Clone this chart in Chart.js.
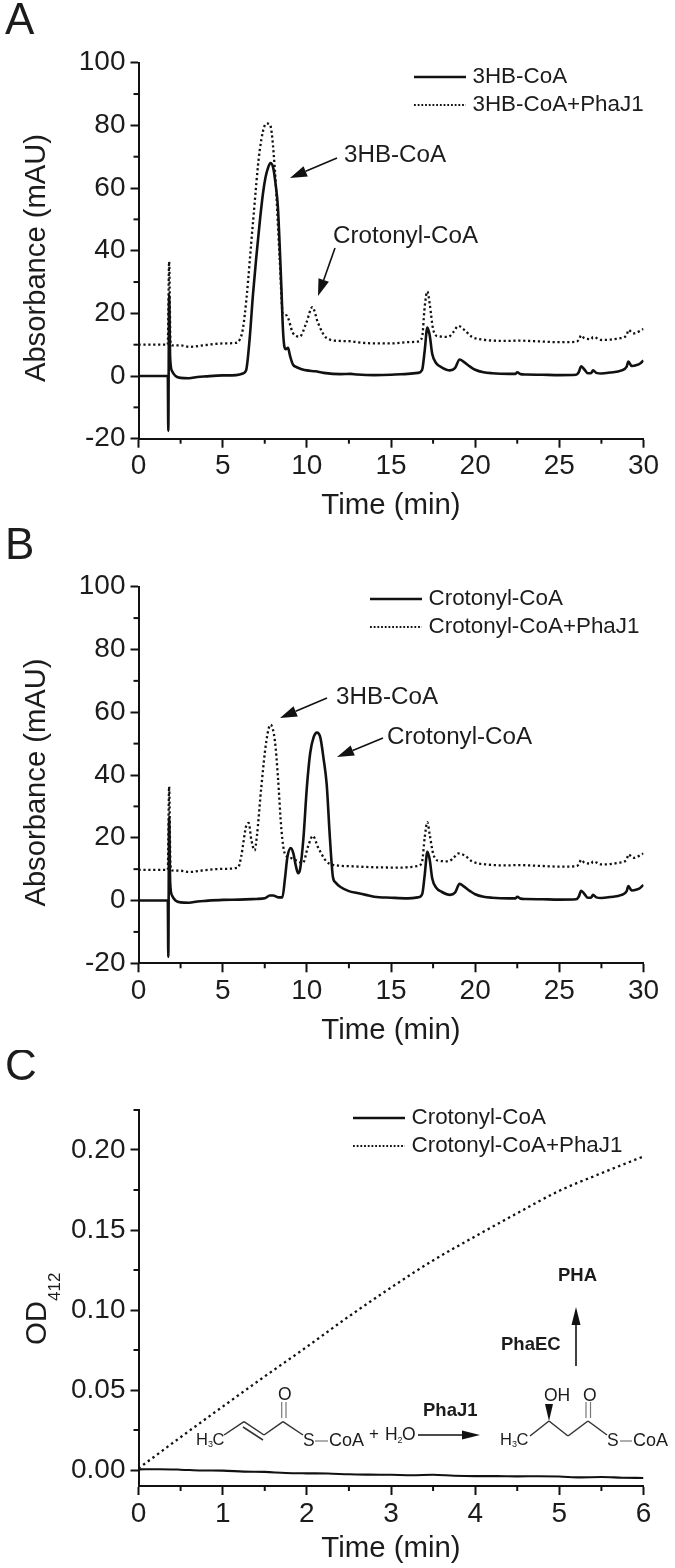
<!DOCTYPE html>
<html>
<head>
<meta charset="utf-8">
<title>Absorbance and OD412 traces</title>
<script src="https://cdn.jsdelivr.net/npm/chart.js@4/dist/chart.umd.min.js"></script>
<style>
  html, body { margin: 0; padding: 0; background: #fff; }
  #page { position: relative; width: 675px; height: 1568px; overflow: hidden; }
  canvas { position: absolute; left: 0; }
</style>
</head>
<body>
<div id="page">
  <canvas id="graficoA" width="675" height="525" style="top:0"></canvas>
  <canvas id="graficoB" width="675" height="525" style="top:525px"></canvas>
  <canvas id="graficoC" width="675" height="518" style="top:1050px"></canvas>
</div>
<script>
// Panel A
const tempoA3HB = [0, 1.74, 1.77, 1.82, 1.88, 2, 2.2, 2.5, 3, 3.5, 4, 5, 5.8, 6.2, 6.4, 6.6, 6.8, 7, 7.2, 7.4, 7.55, 7.7, 7.84, 8, 8.15, 8.28, 8.4, 8.49, 8.58, 8.66, 8.75, 8.88, 9, 9.17, 9.4, 9.7, 10, 10.5, 11, 12, 12.6, 13, 14, 15, 16, 16.6, 16.85, 17, 17.16, 17.3, 17.45, 17.7, 18, 18.5, 18.8, 19.08, 19.3, 19.7, 20, 20.5, 21, 22, 22.4, 22.5, 22.7, 23, 24, 25, 26, 26.15, 26.3, 26.5, 26.7, 26.9, 27, 27.2, 27.5, 28, 28.7, 29, 29.1, 29.3, 29.6, 29.8, 30];
const valorA3HB = [0, 0, -17.5, 26, 6, 1.5, 0, -0.6, -0.7, -0.3, -0.1, 0.2, 0.3, 0.8, 2, 11.7, 26, 38, 49, 58.5, 63.5, 66.5, 68, 66.5, 61, 54, 40, 28, 15, 9.6, 8.6, 9, 6.5, 3.7, 2.8, 2.2, 1.8, 1.5, 1, 0.6, 0.7, 0.5, 0.3, 0.4, 0.7, 1, 2, 8, 15.5, 13, 7, 4, 2.8, 1.8, 2.5, 5.3, 4.6, 3, 2, 1.2, 0.9, 0.7, 0.7, 1.2, 0.6, 0.5, 0.4, 0.3, 0.4, 1.2, 3.1, 2, 0.9, 1, 1.8, 1, 0.8, 1.1, 1.8, 3, 4.6, 3.2, 3.5, 4, 5];
const tempoAPhaJ1 = [0, 1.74, 1.82, 1.9, 2, 2.5, 3, 4, 5, 5.8, 6.02, 6.2, 6.41, 6.8, 7.2, 7.6, 7.8, 8.1, 8.39, 8.57, 8.79, 9.17, 9.58, 9.97, 10.33, 10.66, 11.16, 11.95, 12.6, 13, 14, 15, 16, 16.6, 16.85, 17, 17.16, 17.3, 17.5, 17.8, 18.4, 18.7, 19, 19.4, 19.8, 20.5, 22, 22.5, 24, 25, 26, 26.15, 26.3, 26.5, 26.9, 27, 27.5, 28, 28.5, 29, 29.1, 29.4, 30];
const valorAPhaJ1 = [10, 10, 36.5, 11, 9.8, 9.8, 9.3, 9.9, 10.4, 10.6, 11.7, 15, 24.5, 49, 72, 80.6, 80.4, 66, 37, 20, 19.4, 13.8, 12.6, 17, 22, 17, 12.2, 11.2, 11.1, 10.8, 10.4, 10.4, 10.8, 11, 12.5, 22, 27, 23, 15, 12.7, 12.5, 14, 16, 14.5, 12.5, 11.6, 11.2, 11.3, 11, 10.8, 10.9, 11.5, 13, 12, 11.8, 12.5, 11.5, 11.6, 12, 13, 14.7, 13.6, 15];

// Panel B
const tempoBCrotonil = [0, 1.74, 1.77, 1.82, 1.88, 2, 2.2, 2.5, 3, 3.5, 4, 5, 6, 7, 7.5, 7.8, 8, 8.3, 8.55, 8.7, 8.85, 9.05, 9.2, 9.35, 9.48, 9.6, 9.8, 10, 10.2, 10.4, 10.6, 10.8, 11, 11.18, 11.37, 11.55, 11.7, 12, 12.5, 13, 13.5, 14, 15, 16, 16.6, 16.85, 17, 17.16, 17.3, 17.45, 17.7, 18, 18.5, 18.8, 19.08, 19.3, 19.7, 20, 20.5, 21, 22, 22.4, 22.5, 22.7, 23, 24, 25, 26, 26.15, 26.3, 26.5, 26.7, 26.9, 27, 27.2, 27.5, 28, 28.7, 29, 29.1, 29.3, 29.6, 29.8, 30];
const valorBCrotonil = [0, 0, -18, 26.5, 6, 1.5, 0, -0.6, -0.7, -0.3, -0.1, 0.2, 0.3, 0.5, 0.7, 1.6, 1.6, 1, 1, 7, 14, 16.7, 15, 11, 8.7, 10, 20, 36, 47, 52, 53.5, 52, 45, 37, 20, 7.5, 5.8, 4.3, 3, 2.4, 1.8, 1.2, 0.9, 0.7, 1, 2, 8, 15.5, 13, 7, 4, 2.8, 1.8, 2.5, 5.3, 4.6, 3, 2, 1.2, 0.9, 0.7, 0.7, 1.2, 0.6, 0.5, 0.4, 0.3, 0.4, 1.2, 3.1, 2, 0.9, 1, 1.8, 1, 0.8, 1.1, 1.8, 3, 4.6, 3.2, 3.5, 4, 5];
const tempoBPhaJ1 = [0, 1.74, 1.82, 1.9, 2, 2.5, 3, 4, 5, 5.92, 6.1, 6.41, 6.55, 6.7, 6.9, 7.03, 7.3, 7.6, 7.84, 8.1, 8.28, 8.49, 8.69, 9.08, 9.77, 10.06, 10.36, 10.66, 11.16, 11.55, 12.75, 14, 15.5, 16.6, 16.85, 17, 17.16, 17.3, 17.5, 17.8, 18.4, 18.7, 19, 19.4, 19.8, 20.5, 22, 22.5, 24, 25, 26, 26.15, 26.3, 26.5, 26.9, 27, 27.5, 28, 28.5, 29, 29.1, 29.4, 30];
const valorBPhaJ1 = [9.8, 9.8, 36.3, 11, 9.6, 9.5, 9.1, 9.7, 10.1, 10.5, 14, 24, 24.7, 19.4, 16, 20.4, 36.4, 51, 56, 51, 39.6, 22.6, 15, 13.5, 12, 17, 20.6, 17, 12.5, 11.4, 10.9, 10.6, 10.5, 11, 12.5, 20, 25, 21, 15, 12.7, 12.5, 13.5, 15, 14.3, 12.5, 11.6, 11.2, 11.3, 11, 10.8, 10.9, 11.5, 13, 12, 11.8, 12.5, 11.5, 11.6, 12, 13, 14.7, 13.6, 15];

// Panel C
const tempoCCrotonil = [0, 0.25, 0.5, 0.75, 1, 1.25, 1.5, 1.75, 2, 2.25, 2.5, 2.75, 3, 3.25, 3.5, 3.75, 4, 4.25, 4.5, 4.75, 5, 5.25, 5.5, 5.75, 6];
const valorCCrotonil = [0.0004, 0.0005, 0.0002, -0.0003, -0.0004, -0.001, -0.0012, -0.0019, -0.0021, -0.0022, -0.0027, -0.0029, -0.003, -0.0033, -0.003, -0.0036, -0.0038, -0.0038, -0.004, -0.0039, -0.0041, -0.0046, -0.0044, -0.0048, -0.005];
const tempoCPhaJ1 = [0, 0.5, 1, 1.5, 2, 2.5, 3, 3.5, 4, 4.5, 5, 5.5, 6];
const valorCPhaJ1 = [0.001, 0.0205, 0.0396, 0.0585, 0.077, 0.096, 0.114, 0.131, 0.146, 0.1605, 0.1745, 0.1855, 0.196];

const ticksX30 = [0, 5, 10, 15, 20, 25, 30];
const menoresX30 = [2.5, 7.5, 12.5, 17.5, 22.5, 27.5];
const ticksY100 = [-20, 0, 20, 40, 60, 80, 100];
const menoresY100 = [-10, 10, 30, 50, 70, 90];
const ticksX6 = [0, 1, 2, 3, 4, 5, 6];
const menoresX6 = [0.5, 1.5, 2.5, 3.5, 4.5, 5.5];
const ticksYOD = [0, 0.05, 0.1, 0.15, 0.2];
const menoresYOD = [0.025, 0.075, 0.125, 0.175, 0.225];

const FONTE = '"Liberation Sans", Arial, sans-serif';
const COR_TEXTO = '#1c1c1c';

function pontos(xs, ys) {
  return xs.map((x, i) => ({ x: x, y: ys[i] }));
}

function seta(ctx, x1, y1, x2, y2, comp, meia) {
  // linha de (x1,y1) ate a ponta (x2,y2), com cabeca cheia
  const ang = Math.atan2(y2 - y1, x2 - x1);
  const bx = x2 - comp * Math.cos(ang);
  const by = y2 - comp * Math.sin(ang);
  ctx.strokeStyle = '#111';
  ctx.fillStyle = '#111';
  ctx.lineWidth = 1.6;
  ctx.beginPath();
  ctx.moveTo(x1, y1);
  ctx.lineTo(bx, by);
  ctx.stroke();
  ctx.beginPath();
  ctx.moveTo(x2, y2);
  ctx.lineTo(bx + meia * Math.sin(ang), by - meia * Math.cos(ang));
  ctx.lineTo(bx - meia * Math.sin(ang), by + meia * Math.cos(ang));
  ctx.closePath();
  ctx.fill();
}

function texto(ctx, str, x, y, tam, negrito) {
  ctx.fillStyle = COR_TEXTO;
  ctx.font = (negrito ? 'bold ' : '') + tam + 'px ' + FONTE;
  ctx.textAlign = 'left';
  ctx.textBaseline = 'middle';
  ctx.fillText(str, x, y);
}

function linha(ctx, x1, y1, x2, y2, larg, cor) {
  ctx.strokeStyle = cor || '#333';
  ctx.lineWidth = larg || 1.5;
  ctx.beginPath();
  ctx.moveTo(x1, y1);
  ctx.lineTo(x2, y2);
  ctx.stroke();
}

// H3C com o 3 pequeno, usado nas duas moleculas
function metila(ctx, x, y) {
  texto(ctx, 'H', x, y, 16.5);
  texto(ctx, '3', x + 12, y + 5, 9);
  texto(ctx, 'C', x + 16.5, y, 16.5);
}

function desenharEsquema(ctx) {
  // crotonil-CoA
  metila(ctx, 196, 1440);
  linha(ctx, 224, 1435, 244, 1421.7);
  linha(ctx, 244, 1421.7, 264, 1435);
  linha(ctx, 243, 1427, 263, 1440);
  linha(ctx, 264, 1435, 283, 1421.7);
  linha(ctx, 283, 1421.7, 303, 1435);
  linha(ctx, 281.7, 1418, 281.7, 1402, 1.2, '#777');
  linha(ctx, 286, 1418, 286, 1402, 1.2, '#777');
  texto(ctx, 'O', 278, 1395, 17.5);
  texto(ctx, 'S', 303, 1441, 17.5);
  linha(ctx, 315, 1441, 328, 1441, 1.2, '#777');
  texto(ctx, 'CoA', 329, 1441, 18);
  texto(ctx, '+', 369, 1434, 17);
  texto(ctx, 'H', 385, 1435, 17.5);
  texto(ctx, '2', 397.5, 1441, 9);
  texto(ctx, 'O', 402, 1435, 17.5);
  seta(ctx, 418, 1435, 480, 1435, 18, 4.5);
  texto(ctx, 'PhaJ1', 423, 1411, 18.5, true);

  // 3-hidroxibutiril-CoA
  metila(ctx, 500, 1440);
  linha(ctx, 530, 1436, 549, 1421);
  linha(ctx, 549, 1421, 568, 1436);
  linha(ctx, 568, 1436, 588, 1421);
  linha(ctx, 588, 1421, 607, 1435);
  ctx.fillStyle = '#111';
  ctx.beginPath();
  ctx.moveTo(549, 1421);
  ctx.lineTo(545, 1404);
  ctx.lineTo(553, 1404);
  ctx.closePath();
  ctx.fill();
  linha(ctx, 586, 1418, 586, 1402, 1.2, '#777');
  linha(ctx, 590.5, 1418, 590.5, 1402, 1.2, '#777');
  texto(ctx, 'OH', 544, 1396, 17.5);
  texto(ctx, 'O', 583, 1396, 17.5);
  texto(ctx, 'S', 607, 1441, 17.5);
  linha(ctx, 620, 1441, 632, 1441, 1.2, '#777');
  texto(ctx, 'CoA', 633, 1441, 18);

  seta(ctx, 576, 1366, 576, 1307, 18, 4.5);
  texto(ctx, 'PhaEC', 501, 1345, 18.5, true);
  texto(ctx, 'PHA', 558, 1276, 18.5, true);
}

// Tudo que nao e dado: letras, legenda, setas. Coordenadas em pixels da pagina.
const extrasPlugin = {
  id: 'extras',
  afterDraw(chart, args, opts) {
    const ctx = chart.ctx;
    ctx.save();
    ctx.translate(0, -opts.topo);

    // ticks menores
    const x = chart.scales.x;
    const y = chart.scales.y;
    ctx.strokeStyle = '#111';
    ctx.lineWidth = 2;
    opts.menoresX.forEach(v => {
      const px = x.getPixelForValue(v);
      ctx.beginPath();
      ctx.moveTo(px, y.bottom + opts.topo);
      ctx.lineTo(px, y.bottom + opts.topo + 5);
      ctx.stroke();
    });
    opts.menoresY.forEach(v => {
      const py = y.getPixelForValue(v) + opts.topo;
      ctx.beginPath();
      ctx.moveTo(x.left - 5, py);
      ctx.lineTo(x.left, py);
      ctx.stroke();
    });

    // legenda a partir dos proprios datasets
    chart.data.datasets.forEach((ds, i) => {
      const ly = opts.legenda.y + i * opts.legenda.passo;
      ctx.save();
      ctx.strokeStyle = ds.borderColor;
      ctx.lineWidth = i === 0 ? 2.5 : 1.8;
      ctx.setLineDash(i === 0 ? [] : [1.8, 1.9]);
      ctx.beginPath();
      ctx.moveTo(opts.legenda.x, ly);
      ctx.lineTo(opts.legenda.x + 52, ly);
      ctx.stroke();
      ctx.restore();
      texto(ctx, ds.label, opts.legenda.x + 58.5, ly, 22.4);
    });

    opts.rotulos.forEach(r => texto(ctx, r.t, r.x, r.y, 24.2));
    opts.setas.forEach(s => seta(ctx, s[0], s[1], s[2], s[3], 17, 5.5));
    texto(ctx, opts.letra, 5, opts.letraY, 44);

    // titulo do eixo y fica um pouco abaixo do centro do eixo, por isso e desenhado aqui
    if (opts.tituloY) {
      ctx.save();
      ctx.translate(36.5, opts.tituloYCentro);
      ctx.rotate(-Math.PI / 2);
      ctx.fillStyle = COR_TEXTO;
      ctx.textAlign = 'center';
      ctx.textBaseline = 'middle';
      ctx.font = '29.2px ' + FONTE;
      ctx.fillText(opts.tituloY, 0, 0);
      ctx.restore();
    }

    if (opts.esquema) {
      desenharEsquema(ctx);
      // OD412 com subscrito
      ctx.save();
      ctx.translate(37.5, 1345);
      ctx.rotate(-Math.PI / 2);
      ctx.fillStyle = COR_TEXTO;
      ctx.textBaseline = 'middle';
      ctx.textAlign = 'left';
      ctx.font = '29.4px ' + FONTE;
      ctx.fillText('OD', 0, 0);
      ctx.font = '17px ' + FONTE;
      ctx.fillText('412', 44, 18);
      ctx.restore();
    }
    ctx.restore();
  }
};

function criarGrafico(id, cfg) {
  const fonteTick = { family: FONTE, size: 28 };
  const fonteTitulo = { family: FONTE, size: 29.4 };
  return new Chart(document.getElementById(id), {
    type: 'line',
    data: {
      datasets: [
        {
          label: cfg.nomes[0],
          data: pontos(cfg.solido[0], cfg.solido[1]),
          borderColor: '#111',
          borderWidth: cfg.larguraSolido,
          cubicInterpolationMode: 'monotone'
        },
        {
          label: cfg.nomes[1],
          data: pontos(cfg.pontilhado[0], cfg.pontilhado[1]),
          borderColor: '#111',
          borderWidth: 2.3,
          borderDash: cfg.traco,
          cubicInterpolationMode: 'monotone'
        }
      ]
    },
    options: {
      responsive: false,
      animation: false,
      devicePixelRatio: 1,
      elements: { point: { radius: 0 } },
      layout: { padding: { top: cfg.areaTopo, right: 31.5, bottom: 0, left: 0 } },
      plugins: {
        legend: { display: false },
        tooltip: { enabled: false },
        extras: {
          topo: cfg.topo,
          letra: cfg.letra,
          letraY: cfg.letraY,
          legenda: cfg.legenda,
          rotulos: cfg.rotulos,
          setas: cfg.setas,
          menoresX: cfg.menoresX,
          menoresY: cfg.menoresY,
          esquema: cfg.esquema,
          tituloY: cfg.tituloY,
          tituloYCentro: cfg.tituloYCentro
        }
      },
      scales: {
        x: {
          type: 'linear',
          min: cfg.xMin,
          max: cfg.xMax,
          afterBuildTicks: s => { s.ticks = cfg.ticksX.map(v => ({ value: v })); },
          afterFit: s => { s.height = cfg.alturaX; },
          border: { color: '#111', width: 2 },
          grid: { drawOnChartArea: false, tickLength: 9, tickWidth: 2, tickColor: '#111' },
          ticks: { color: COR_TEXTO, font: fonteTick, padding: 2, maxRotation: 0, autoSkip: false },
          title: { display: true, text: 'Time (min)', color: COR_TEXTO, font: fonteTitulo, padding: { top: 2, bottom: 1.5 } }
        },
        y: {
          min: cfg.yMin,
          max: cfg.yMax,
          afterBuildTicks: s => { s.ticks = cfg.ticksY.map(v => ({ value: v })); },
          afterFit: s => { s.width = 138.5; },
          border: { color: '#111', width: 2 },
          grid: { drawOnChartArea: false, tickLength: 8, tickWidth: 2, tickColor: '#111' },
          ticks: {
            color: COR_TEXTO, font: fonteTick, padding: 5, autoSkip: false,
            callback: cfg.formatoY
          }
        }
      }
    },
    plugins: [extrasPlugin]
  });
}

document.addEventListener('DOMContentLoaded', function () {
  criarGrafico('graficoA', {
    topo: 0, areaTopo: 62.7, alturaX: 86.3, letra: 'A', letraY: 22,
    larguraSolido: 2.6, traco: [2.2, 2.7],
    nomes: ['3HB-CoA', '3HB-CoA+PhaJ1'],
    solido: [tempoA3HB, valorA3HB],
    pontilhado: [tempoAPhaJ1, valorAPhaJ1],
    xMin: 0, xMax: 30, yMin: -20, yMax: 100,
    ticksX: ticksX30, ticksY: ticksY100, menoresX: menoresX30, menoresY: menoresY100,
    tituloY: 'Absorbance (mAU)', tituloYCentro: 258,
    formatoY: v => v,
    legenda: { x: 414, y: 77, passo: 28 },
    rotulos: [{ t: '3HB-CoA', x: 344, y: 155 }, { t: 'Crotonyl-CoA', x: 333, y: 236 }],
    setas: [[337, 158, 290, 178], [335, 248, 318, 296]]
  });

  criarGrafico('graficoB', {
    topo: 525, areaTopo: 61.7, alturaX: 86.7, letra: 'B', letraY: 547,
    larguraSolido: 2.6, traco: [2.2, 2.7],
    nomes: ['Crotonyl-CoA', 'Crotonyl-CoA+PhaJ1'],
    solido: [tempoBCrotonil, valorBCrotonil],
    pontilhado: [tempoBPhaJ1, valorBPhaJ1],
    xMin: 0, xMax: 30, yMin: -20, yMax: 100,
    ticksX: ticksX30, ticksY: ticksY100, menoresX: menoresX30, menoresY: menoresY100,
    tituloY: 'Absorbance (mAU)', tituloYCentro: 782.5,
    formatoY: v => v,
    legenda: { x: 370, y: 599, passo: 28 },
    rotulos: [{ t: '3HB-CoA', x: 336, y: 697 }, { t: 'Crotonyl-CoA', x: 387, y: 737 }],
    setas: [[327, 698, 280, 718], [383, 738, 337, 757]]
  });

  criarGrafico('graficoC', {
    topo: 1050, areaTopo: 60, alturaX: 82, letra: 'C', letraY: 1068, esquema: true,
    larguraSolido: 2.1, traco: [2.4, 3.4],
    nomes: ['Crotonyl-CoA', 'Crotonyl-CoA+PhaJ1'],
    solido: [tempoCCrotonil, valorCCrotonil],
    pontilhado: [tempoCPhaJ1, valorCPhaJ1],
    xMin: 0, xMax: 6, yMin: -0.01, yMax: 0.225,
    ticksX: ticksX6, ticksY: ticksYOD, menoresX: menoresX6, menoresY: menoresYOD,
    tituloY: '',
    formatoY: v => v.toFixed(2),
    legenda: { x: 353, y: 1118, passo: 28 },
    rotulos: [],
    setas: []
  });
});
</script>
</body>
</html>
